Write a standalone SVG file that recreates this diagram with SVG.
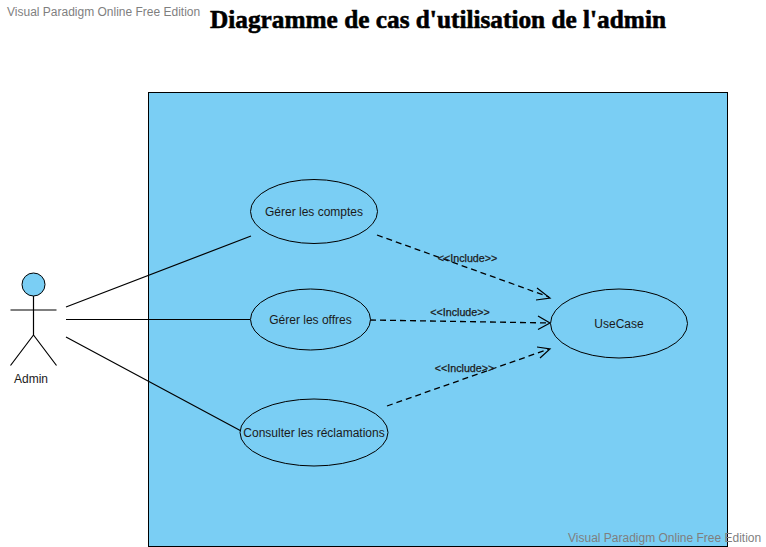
<svg xmlns="http://www.w3.org/2000/svg" width="766" height="547" viewBox="0 0 766 547">
<style>
text{font-family:"Liberation Sans",Arial,sans-serif;font-size:12px;fill:#1a1a1a}
.uc{fill:#7acef4;stroke:#000;stroke-width:1}
.l{stroke:#000;stroke-width:1.2;fill:none}
.d{stroke:#000;stroke-width:1.3;fill:none;stroke-dasharray:6 4}
.wm{fill:#7f7f7f;font-size:12px}
.inc{font-size:10.700px;stroke:#1a1a1a;stroke-width:.25}
</style>
<rect width="766" height="547" fill="#fff"/>
<g id="system"><rect x="148.500" y="92.500" width="579" height="454" fill="#7acef4" stroke="#000" stroke-width="1"/></g>
<text x="7" y="16" class="wm">Visual Paradigm Online Free Edition</text>
<text x="210" y="28" style="font-family:'Liberation Serif',serif;font-size:26px;font-weight:bold;fill:#000;stroke:#000;stroke-width:.6" textLength="456" lengthAdjust="spacingAndGlyphs">Diagramme de cas d'utilisation de l'admin</text>
<g id="connectors">
<path class="l" d="M66 307L251 236M66 319.500H250M66 337L243 432"/>
<path class="d" d="M377 235L549 297M370 320L550 323M387 406L549 349"/>
<path class="l" d="M537 288L550 298L536 300M538 316L550 323L538 329.500M537 347L550 349L540 358"/>
</g>
<g id="uc1"><ellipse class="uc" cx="314" cy="211.500" rx="63.500" ry="32"/><text x="314" y="216" text-anchor="middle">Gérer les comptes</text></g>
<g id="uc2"><ellipse class="uc" cx="310.500" cy="319.500" rx="60" ry="30.500"/><text x="310.500" y="324" text-anchor="middle">Gérer les offres</text></g>
<g id="uc3"><ellipse class="uc" cx="314" cy="432.500" rx="74" ry="33.500"/><text x="314" y="437" text-anchor="middle">Consulter les réclamations</text></g>
<g id="uc4"><ellipse class="uc" cx="619" cy="323.500" rx="68.500" ry="34.500"/><text x="619" y="328" text-anchor="middle">UseCase</text></g>
<g id="labels">
<text x="467.500" y="262" text-anchor="middle" class="inc">&lt;&lt;Include&gt;&gt;</text>
<text x="460" y="316" text-anchor="middle" class="inc">&lt;&lt;Include&gt;&gt;</text>
<text x="464.500" y="372" text-anchor="middle" class="inc">&lt;&lt;Include&gt;&gt;</text>
</g>
<g id="admin">
<circle class="uc" cx="33.500" cy="284.500" r="11.500"/>
<path class="l" d="M33.500 296V335M10.500 310H56.500M33.500 335L10.500 365.500M33.500 335L56.500 365.500"/>
<text x="31" y="383" text-anchor="middle">Admin</text>
</g>
<text x="568" y="542" class="wm">Visual Paradigm Online Free Edition</text>
</svg>
